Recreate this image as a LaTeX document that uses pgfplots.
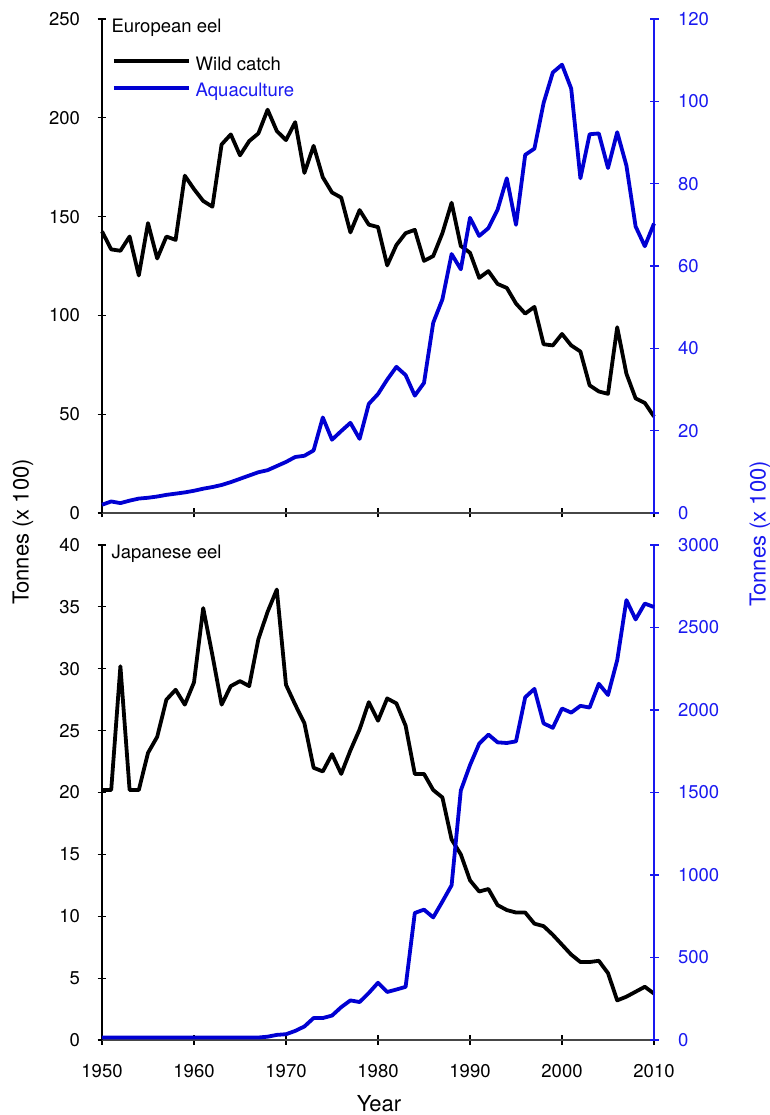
\documentclass[border=0pt]{standalone}
\usepackage{pgfplots}
\pgfplotsset{compat=1.18}
\usepackage{pgfplotstable}
\usepackage{fontspec}
\setmainfont{TeX Gyre Heros}
\definecolor{lineblue}{RGB}{0,0,210}
\definecolor{axisblue}{RGB}{25,25,240}
\definecolor{legblack}{RGB}{35,24,21}
\definecolor{axgray}{RGB}{70,70,70}

\pgfplotstableread{
year wild aqua
1950 142.5 2.0
1951 133.4 2.8
1952 132.7 2.4
1953 139.9 3.0
1954 120.2 3.5
1955 146.7 3.7
1956 128.8 4.0
1957 139.9 4.4
1958 138.2 4.7
1959 170.7 5.0
1960 163.9 5.4
1961 157.9 5.9
1962 155.0 6.3
1963 186.5 6.8
1964 191.6 7.5
1965 181.0 8.3
1966 188.2 9.1
1967 192.1 9.9
1968 204.1 10.4
1969 193.3 11.4
1970 188.7 12.4
1971 197.8 13.6
1972 172.1 13.9
1973 185.8 15.2
1974 169.9 23.2
1975 162.2 17.8
1976 159.6 19.9
1977 142.0 21.9
1978 153.3 18.0
1979 145.9 26.5
1980 144.7 28.9
1981 125.3 32.4
1982 135.6 35.5
1983 141.6 33.5
1984 143.3 28.5
1985 127.6 31.6
1986 130.0 46.2
1987 141.6 51.9
1988 157.0 62.9
1989 135.1 59.2
1990 131.7 71.7
1991 119.0 67.3
1992 122.4 69.2
1993 115.9 73.7
1994 113.9 81.3
1995 106.0 70.0
1996 100.9 87.0
1997 104.3 88.5
1998 85.4 99.6
1999 84.8 107.0
2000 90.6 108.9
2001 84.8 103.1
2002 81.7 81.3
2003 64.6 92.0
2004 61.5 92.2
2005 60.3 83.8
2006 94.0 92.5
2007 70.5 84.4
2008 58.0 69.6
2009 55.7 64.8
2010 48.8 70.3
}\european

\pgfplotstableread{
year wild aqua
1950 20.2 15
1951 20.2 15
1952 30.2 15
1953 20.2 15
1954 20.2 15
1955 23.2 15
1956 24.5 15
1957 27.5 15
1958 28.3 15
1959 27.1 15
1960 28.9 15
1961 34.9 15
1962 31.1 15
1963 27.1 15
1964 28.6 15
1965 29.0 15
1966 28.6 15
1967 32.4 15
1968 34.6 20
1969 36.4 31
1970 28.7 35
1971 27.1 55
1972 25.6 82
1973 22.0 133
1974 21.7 133
1975 23.1 148
1976 21.5 199
1977 23.4 240
1978 25.1 230
1979 27.3 285
1980 25.8 347
1981 27.6 291
1982 27.2 306
1983 25.4 322
1984 21.5 770
1985 21.5 790
1986 20.2 743
1987 19.6 839
1988 16.2 938
1989 15.0 1512
1990 12.9 1666
1991 12.0 1796
1992 12.2 1851
1993 10.9 1804
1994 10.5 1800
1995 10.3 1810
1996 10.3 2077
1997 9.4 2128
1998 9.2 1919
1999 8.5 1892
2000 7.7 2009
2001 6.9 1984
2002 6.3 2025
2003 6.3 2015
2004 6.4 2159
2005 5.4 2091
2006 3.2 2302
2007 3.5 2666
2008 3.9 2549
2009 4.3 2645
2010 3.75 2624
}\japanese

\pgfplotsset{
  base/.style={
    scale only axis, width=552pt,
    xmin=1950, xmax=2010,
    xtick={1950,1960,...,2010},
    tick align=outside, major tick length=9pt,
    every tick/.style={line width=1.1pt},
    axis line style={-, line width=1.2pt},
    tick label style={font=\fontsize{18.5}{21}\selectfont},
    /pgf/number format/assume math mode=true,
    /pgf/number format/1000 sep={},
    clip=false,
  },
  leftax/.style={base,
    axis x line=bottom, axis y line=left,
    x axis line style={-, draw=axgray},
    y axis line style={-, draw=black},
    xtick style={draw=black},
    ytick style={draw=black},
    yticklabel style={xshift=-14pt},
  },
  rightax/.style={base,
    axis x line=none, axis y line=right,
    y axis line style={-, draw=axisblue},
    ytick style={draw=axisblue},
    yticklabel style={text=axisblue, xshift=16pt},
  },
  wildline/.style={black, line width=3.8pt, line join=round},
  aqualine/.style={lineblue, line width=3.8pt, line join=round},
}

\begin{document}
\begin{tikzpicture}
\useasboundingbox (0pt,0pt) rectangle (769pt,1115pt);

% ---- top panel: European eel
\begin{axis}[leftax, at={(102pt,602pt)}, anchor=south west, height=494pt,
  ymin=0, ymax=250, ytick={0,50,...,250}, xticklabels={},
  legend style={draw=none, fill=none, at={(0.0176,0.924)}, anchor=north west,
    inner sep=0pt, column sep=5pt, row sep=9.2pt,
    nodes={inner sep=0pt, text height=13.5pt, text depth=4pt, font=\fontsize{18.5}{21}\selectfont}},
  legend cell align=left,
  legend image code/.code={\draw[#1] (0pt,4.3pt) -- (75pt,4.3pt);}]
\addplot[wildline] table[x=year, y=wild] {\european};
\addlegendentry{Wild catch}
\addlegendimage{lineblue, line width=3.8pt}
\addlegendentry{\textcolor{axisblue}{Aquaculture}}
\end{axis}
\begin{axis}[rightax, at={(102pt,602pt)}, anchor=south west, height=494pt,
  ymin=0, ymax=120, ytick={0,20,...,120}]
\addplot[aqualine] table[x=year, y=aqua] {\european};
\end{axis}

% ---- bottom panel: Japanese eel
\begin{axis}[leftax, at={(102pt,75pt)}, anchor=south west, height=495pt,
  ymin=0, ymax=40, ytick={0,5,...,40},
  xticklabel style={yshift=-16pt}]
\addplot[wildline] table[x=year, y=wild] {\japanese};
\end{axis}
\begin{axis}[rightax, at={(102pt,75pt)}, anchor=south west, height=495pt,
  ymin=0, ymax=3000, ytick={0,500,...,3000}]
\addplot[aqualine] table[x=year, y=aqua] {\japanese};
\end{axis}

% ---- texts
\node[anchor=base west, font=\fontsize{18.5}{21}\selectfont] at (108pt,1082pt) {European eel};
\node[anchor=base west, font=\fontsize{18.5}{21}\selectfont] at (108pt,556pt) {Japanese eel};
\node[rotate=90, font=\fontsize{22}{25}\selectfont] at (23pt,583pt) {Tonnes (x 100)};
\node[rotate=90, text=axisblue, font=\fontsize{22}{25}\selectfont] at (760pt,581pt) {Tonnes (x 100)};
\node[font=\fontsize{22}{25}\selectfont] at (379pt,11pt) {Year};
\end{tikzpicture}
\end{document}
